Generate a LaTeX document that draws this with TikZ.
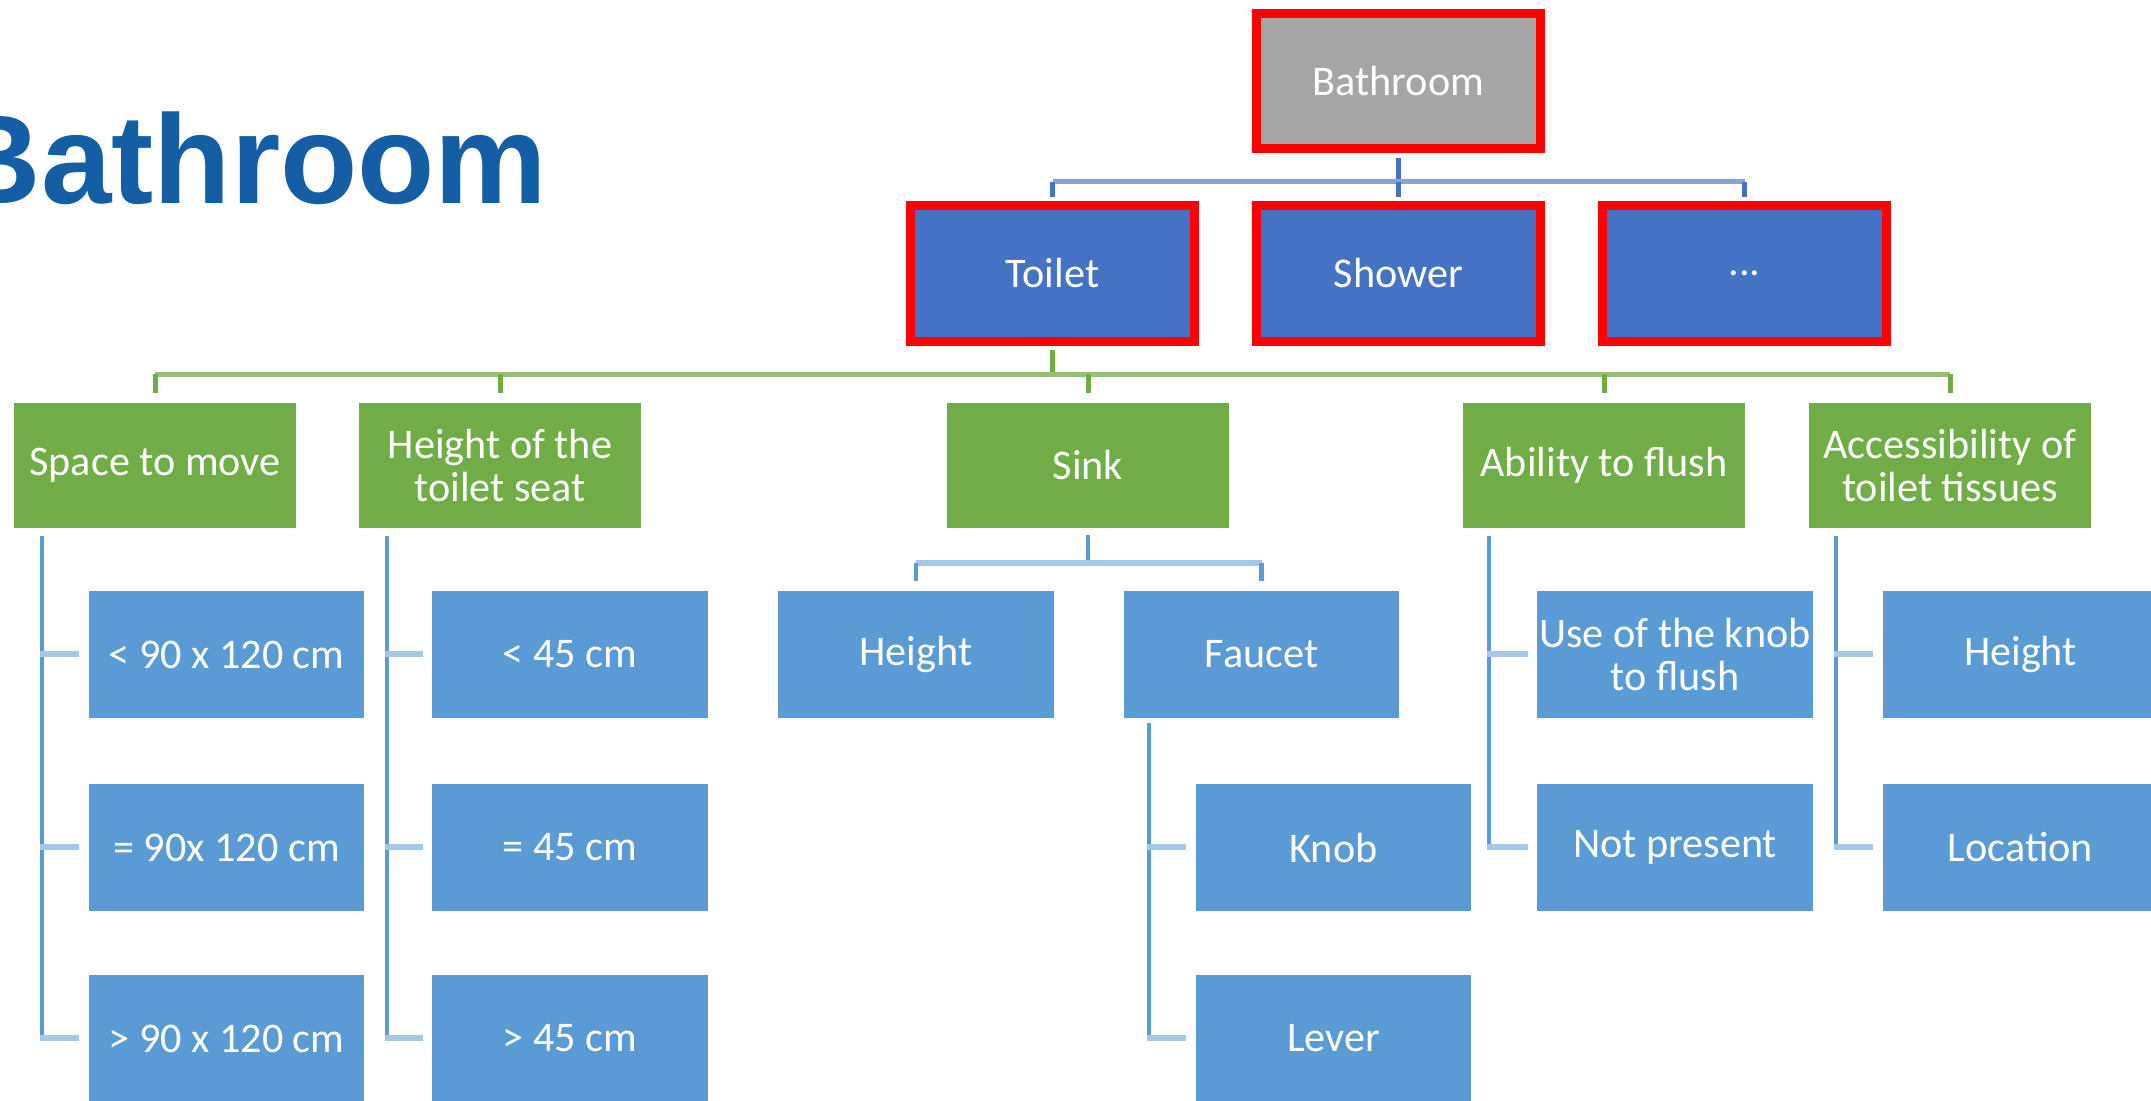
\documentclass[tikz,border=0pt]{standalone}
\usepackage{fontspec}
\setmainfont{Carlito}
\newfontfamily\headfont{Liberation Sans}
\usetikzlibrary{calc}

\definecolor{redline}{HTML}{FF0000}
\definecolor{rootgray}{HTML}{A5A5A5}
\definecolor{topblue}{HTML}{4472C4}
\definecolor{midgreen}{HTML}{70AD47}
\definecolor{leafblue}{HTML}{5B9BD5}
\definecolor{titleblue}{HTML}{135EA5}

\tikzset{
  box/.style={rectangle, inner sep=0pt, text=white, align=center,
    font=\fontsize{12}{12.3}\selectfont},
  framed/.style={box, draw=redline, line width=0.09cm,
    minimum width=2.84cm, minimum height=1.35cm},
  rootbox/.style={framed, fill=rootgray},
  areabox/.style={framed, fill=topblue},
  itembox/.style={box, fill=midgreen, minimum width=2.81cm, minimum height=1.25cm},
  leafbox/.style={box, fill=leafblue, minimum width=2.75cm, minimum height=1.27cm},
  topv/.style={draw=topblue, line width=0.05cm},
  toph/.style={draw=topblue!65, line width=0.05cm},
  greenv/.style={draw=midgreen, line width=0.05cm},
  greenh/.style={draw=midgreen!75, line width=0.05cm},
  trunk/.style={draw=leafblue, line width=0.045cm},
  stub/.style={draw=leafblue!55, line width=0.06cm},
}

\begin{document}
\begin{tikzpicture}[x=0.01cm, y=-0.01cm]
\useasboundingbox (0,0) rectangle (2151,1101);
\clip (0,0) rectangle (2151,1101);

% page title
\node[anchor=base west, inner sep=0pt, text=titleblue,
      font=\headfont\bfseries\fontsize{36}{36}\selectfont] (title) at (-51,204) {Bathroom};

% room and its areas
\node[rootbox] (root) at (1398.5,81) {Bathroom};
\node[areabox] (toilet) at (1052.5,273.5) {Toilet};
\node[areabox] (shower) at (1398.5,273.5) {Shower};
\node[areabox] (etc) at (1744.5,273.5) {...};

% toilet criteria
\node[itembox] (space)  at (155,465.5)  {Space to move};
\node[itembox] (seat)   at (500,465.5)  {Height of the\\toilet seat};
\node[itembox] (sink)   at (1088,465.5) {Sink};
\node[itembox] (flush)  at (1604,465.5) {Ability to flush};
\node[itembox] (tissue) at (1950,465.5) {Accessibility of\\toilet tissues};

% values
\node[leafbox] (sp1) at (226.5,654.5)  {< 90 x 120 cm};
\node[leafbox] (sp2) at (226.5,847.5)  {= 90x 120 cm};
\node[leafbox] (sp3) at (226.5,1038.5) {> 90 x 120 cm};
\node[leafbox] (st1) at (570,654.5)  {< 45 cm};
\node[leafbox] (st2) at (570,847.5)  {= 45 cm};
\node[leafbox] (st3) at (570,1038.5) {> 45 cm};
\node[leafbox] (sh) at (916,654.5)    {Height};
\node[leafbox] (fa) at (1261.5,654.5) {Faucet};
\node[leafbox] (kn) at (1333.5,847.5)  {Knob};
\node[leafbox] (lv) at (1333.5,1038.5) {Lever};
\node[leafbox] (fl1) at (1675,654.5) {Use of the knob\\to flush};
\node[leafbox] (fl2) at (1675,847.5) {Not present};
\node[leafbox] (ti1) at (2020.5,654.5) {Height};
\node[leafbox] (ti2) at (2020.5,847.5) {Location};

% root to areas
\coordinate (topbus) at ($(root.south)+(0,28.5)$);
\draw[topv] ($(root.south)+(0,4.5)$) -- (topbus);
\draw[toph] (topbus -| toilet.north) -- (topbus -| etc.north);
\foreach \n in {toilet,shower,etc}
  \draw[topv] (topbus -| \n.north) -- ($(\n.north)+(0,-4.5)$);

% toilet to criteria
\coordinate (greenbus) at ($(toilet.south)+(0,28.5)$);
\draw[greenv] ($(toilet.south)+(0,4.5)$) -- (greenbus);
\draw[greenh] (greenbus -| space.north) -- (greenbus -| tissue.north);
\foreach \n in {space,seat,sink,flush,tissue}
  \draw[greenv] (greenbus -| \n.north) -- ($(\n.north)+(0,-9)$);

% sink to its parts
\coordinate (sinkbus) at ($(sink.south)+(0,34)$);
\draw[trunk] ($(sink.south)+(0,6)$) -- (sinkbus);
\draw[stub] (sinkbus -| sh.north) -- (sinkbus -| fa.north);
\foreach \n in {sh,fa}
  \draw[trunk] (sinkbus -| \n.north) -- ($(\n.north)+(0,-9)$);

% bracket lists
\coordinate (spT) at ($(space.south west)+(28.5,7)$);
\coordinate (stT) at ($(seat.south west)+(28.5,7)$);
\coordinate (faT) at ($(fa.south west)+(26,4)$);
\coordinate (flT) at ($(flush.south west)+(26.5,7)$);
\coordinate (tiT) at ($(tissue.south west)+(27.5,7)$);

\draw[trunk] (spT) -- ($(spT |- sp3.west)+(0,2)$);
\draw[trunk] (stT) -- ($(stT |- st3.west)+(0,2)$);
\draw[trunk] (faT) -- ($(faT |- lv.west)+(0,2)$);
\draw[trunk] (flT) -- ($(flT |- fl2.west)+(0,2)$);
\draw[trunk] (tiT) -- ($(tiT |- ti2.west)+(0,2)$);

\foreach \t/\c in {spT/sp1,spT/sp2,spT/sp3,stT/st1,stT/st2,stT/st3,
                   faT/kn,faT/lv,flT/fl1,flT/fl2,tiT/ti1,tiT/ti2}
  \draw[stub] ($(\t |- \c.west)+(-2,0)$) -- ($(\c.west)+(-9,0)$);
\end{tikzpicture}
\end{document}
